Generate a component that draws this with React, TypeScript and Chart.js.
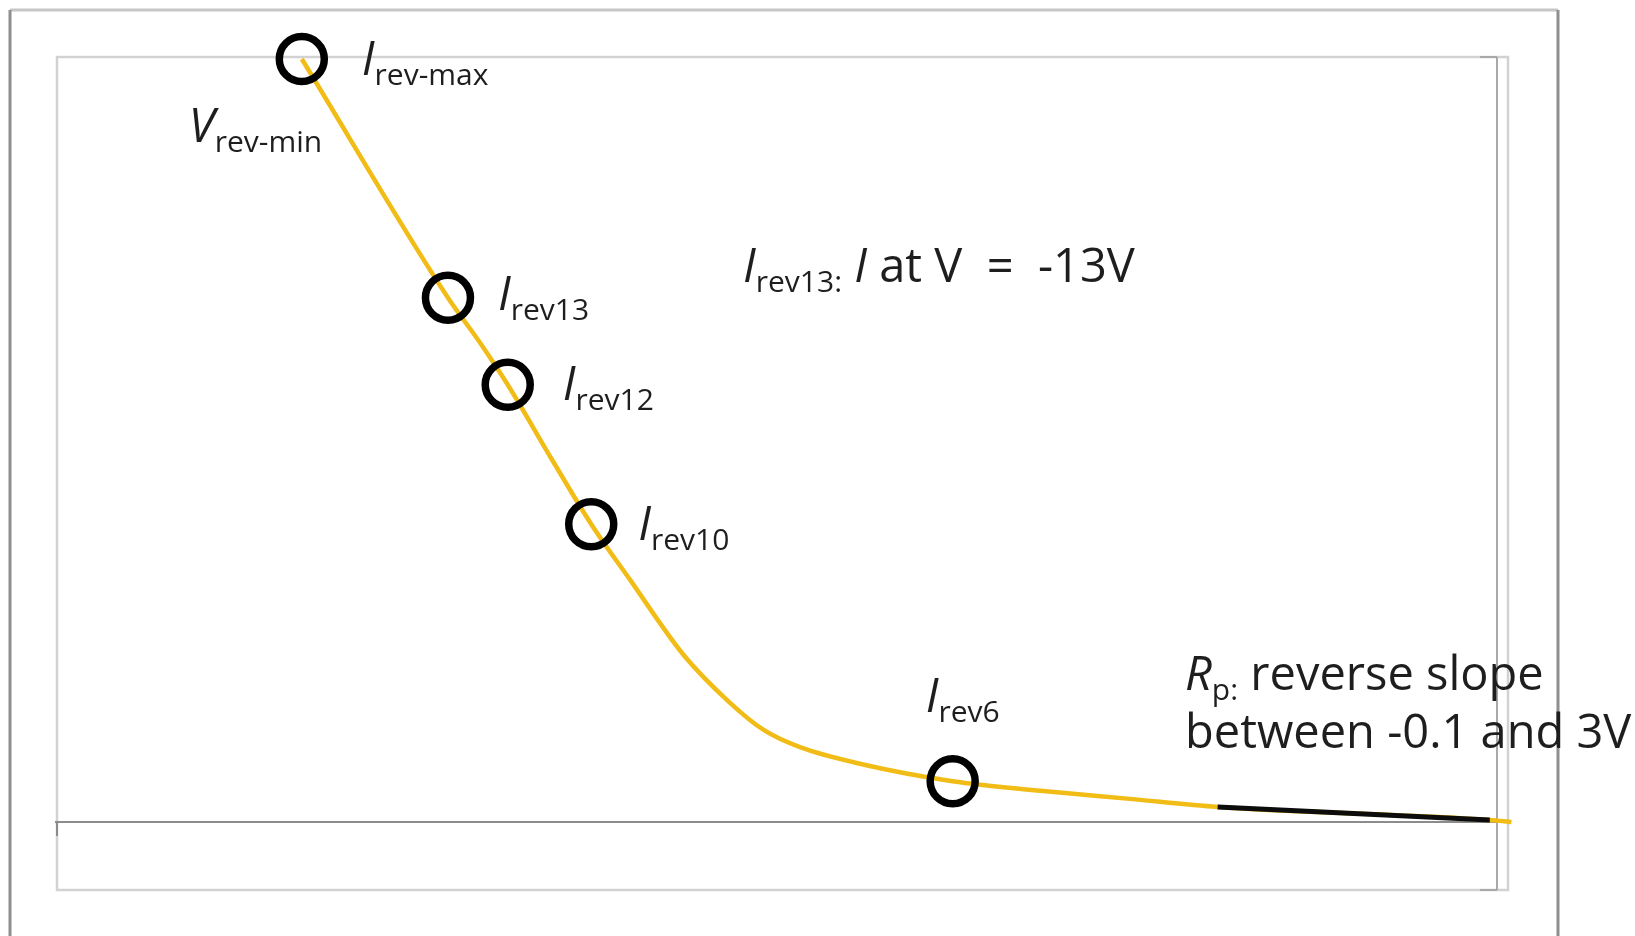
import React, { useEffect, useRef } from "react";
import { Chart, registerables } from "chart.js";

Chart.register(...registerables);

// Schematic reverse I-V curve (arbitrary units)
const curveV = [17.0, 27.15, 29.4, 31.3, 34.4, 37.1, 39.8, 43.5, 46.7, 49.1, 51.6, 55.9, 62.2, 68.3, 74.5, 80.6, 99.5, 101.0];
const curveI = [112.2, 77.1, 70.4, 64.3, 53.2, 43.8, 35.6, 24.6, 17.6, 13.5, 11.0, 8.5, 6.0, 4.6, 3.4, 2.2, 0.3, 0.0];

// Marked points
const markerV = [17.0, 27.15, 31.3, 37.1, 62.2];
const markerI = [112.2, 77.1, 64.3, 43.8, 6.0];
const markerSymbols = ["I", "I", "I", "I", "I"];
const markerSubs = ["rev-max", "rev13", "rev12", "rev10", "rev6"];

// Rp slope segment
const slopeV = [80.6, 99.5];
const slopeI = [2.2, 0.3];

const W = 1635;
const H = 936;
const FONT = '"Open Sans", "Noto Sans", sans-serif';
const MAIN = 47;
const SUB = 30;
const DROP = 10;
const TEXT = "#1e1e1e";

type Part = { t: string; i?: boolean; sub?: boolean };

function drawRich(ctx: CanvasRenderingContext2D, x: number, y: number, parts: Part[]) {
  let cx = x;
  ctx.textBaseline = "alphabetic";
  ctx.textAlign = "left";
  ctx.fillStyle = TEXT;
  for (const p of parts) {
    const size = p.sub ? SUB : MAIN;
    ctx.font = `${p.i ? "italic " : ""}${size}px ${FONT}`;
    ctx.fillText(p.t, cx, y + (p.sub ? DROP : 0));
    cx += ctx.measureText(p.t).width;
  }
}

const labelOffsets: [number, number][] = [
  [60, 16],
  [50, 12],
  [55, 15],
  [47, 16],
  [-27, -69],
];

const framePlugin = {
  id: "frames",
  beforeDatasetsDraw(chart: any) {
    const ctx: CanvasRenderingContext2D = chart.ctx;
    const a = chart.chartArea;
    const y0 = chart.scales.y.getPixelForValue(0);
    ctx.save();
    ctx.lineCap = "butt";
    // outer frame
    ctx.strokeStyle = "#c6c6c6";
    ctx.lineWidth = 3;
    ctx.beginPath();
    ctx.moveTo(10, 10);
    ctx.lineTo(1558, 10);
    ctx.stroke();
    ctx.strokeStyle = "#8e8e8e";
    ctx.beginPath();
    ctx.moveTo(10, 10);
    ctx.lineTo(10, H);
    ctx.moveTo(1558, 10);
    ctx.lineTo(1558, H);
    ctx.stroke();
    // inner box
    ctx.strokeStyle = "#d2d2d2";
    ctx.lineWidth = 2.5;
    ctx.strokeRect(a.left, a.top, a.right + 11 - a.left, a.bottom - a.top);
    ctx.strokeStyle = "#a9a9a9";
    ctx.lineWidth = 2;
    ctx.beginPath();
    ctx.moveTo(a.right, a.top);
    ctx.lineTo(a.right, a.bottom);
    ctx.moveTo(a.right - 17, a.bottom);
    ctx.lineTo(a.right, a.bottom);
    ctx.moveTo(a.right - 17, a.top);
    ctx.lineTo(a.right, a.top);
    ctx.stroke();
    // zero line
    ctx.strokeStyle = "#8c8c8c";
    ctx.lineWidth = 2;
    ctx.beginPath();
    ctx.moveTo(a.left - 2, y0);
    ctx.lineTo(a.right, y0);
    ctx.moveTo(a.left, y0);
    ctx.lineTo(a.left, y0 + 14);
    ctx.stroke();
    ctx.restore();
  },
  afterDatasetsDraw(chart: any) {
    const ctx: CanvasRenderingContext2D = chart.ctx;
    const xs = chart.scales.x;
    const ys = chart.scales.y;
    ctx.save();
    markerV.forEach((v, i) => {
      const px = xs.getPixelForValue(v);
      const py = ys.getPixelForValue(markerI[i]);
      const [dx, dy] = labelOffsets[i];
      drawRich(ctx, px + dx, py + dy, [
        { t: markerSymbols[i], i: true },
        { t: markerSubs[i], sub: true },
      ]);
    });
    // V rev-min next to the first marker
    const fx = xs.getPixelForValue(markerV[0]);
    const fy = ys.getPixelForValue(markerI[0]);
    drawRich(ctx, fx - 113, fy + 83, [
      { t: "V", i: true },
      { t: "rev-min", sub: true },
    ]);
    // notes
    drawRich(ctx, 743, 282, [
      { t: "I", i: true },
      { t: "rev13:", sub: true },
      { t: " " },
      { t: "I", i: true },
      { t: " at V  =  -13V" },
    ]);
    drawRich(ctx, 1185, 690, [
      { t: "R", i: true },
      { t: "p:", sub: true },
      { t: " reverse slope" },
    ]);
    drawRich(ctx, 1185, 748, [{ t: "between -0.1 and 3V" }]);
    ctx.restore();
  },
};

export default function App() {
  const ref = useRef<HTMLCanvasElement | null>(null);
  useEffect(() => {
    if (!ref.current) return;
    const chart = new Chart(ref.current, {
      type: "line",
      data: {
        datasets: [
          {
            label: "markers",
            data: markerV.map((v, i) => ({ x: v, y: markerI[i] })),
            showLine: false,
            pointRadius: 22.5,
            pointHoverRadius: 22.5,
            pointBorderWidth: 7.5,
            pointBorderColor: "#000000",
            pointBackgroundColor: "rgba(0,0,0,0)",
            clip: false,
          } as any,
          {
            label: "Rp",
            data: slopeV.map((v, i) => ({ x: v, y: slopeI[i] })),
            borderColor: "#0c0c0c",
            borderWidth: 5,
            pointRadius: 0,
            tension: 0,
            clip: false,
          } as any,
          {
            label: "I-V",
            data: curveV.map((v, i) => ({ x: v, y: curveI[i] })),
            borderColor: "#f2bc16",
            borderWidth: 4.5,
            pointRadius: 0,
            cubicInterpolationMode: "monotone",
            clip: false,
          } as any,
        ],
      },
      options: {
        responsive: false,
        animation: false,
        devicePixelRatio: 1,
        events: [],
        layout: { padding: { left: 57, top: 57, right: W - 1497, bottom: H - 890 } },
        scales: {
          x: { type: "linear", min: 0, max: 100, display: false },
          y: { type: "linear", min: -10, max: 112.5, display: false },
        },
        plugins: { legend: { display: false }, tooltip: { enabled: false } },
      },
      plugins: [framePlugin],
    });
    return () => chart.destroy();
  }, []);
  return (
    <div style={{ position: "fixed", left: 0, top: 0, width: W, height: H, background: "#fff" }}>
      <canvas ref={ref} width={W} height={H} style={{ display: "block", width: W, height: H }} />
    </div>
  );
}
